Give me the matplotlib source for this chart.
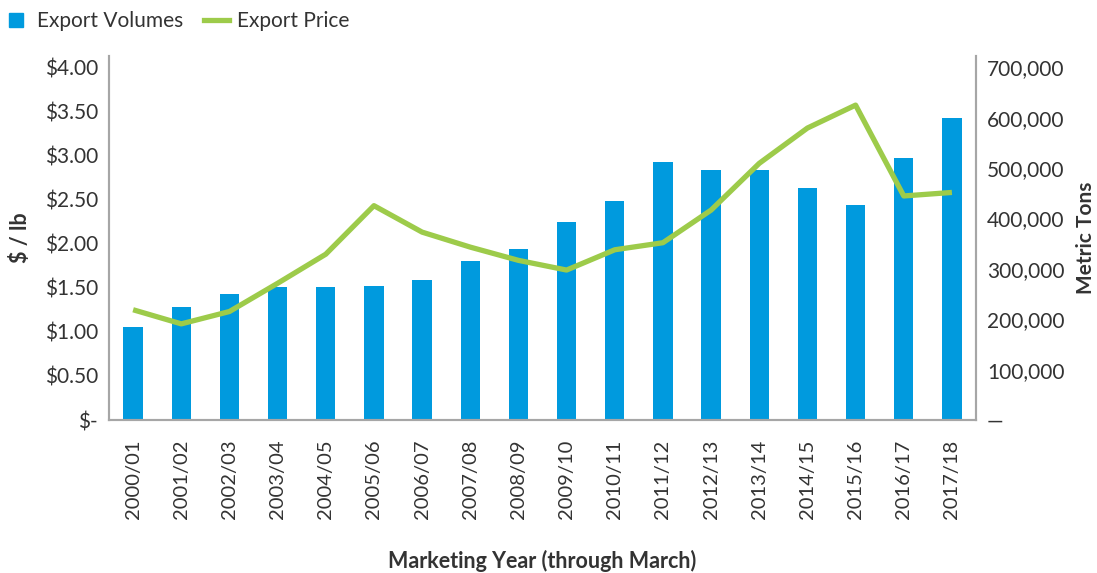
import matplotlib.pyplot as plt
from matplotlib.lines import Line2D
from matplotlib.ticker import FuncFormatter
import numpy as np

plt.rcParams["font.family"] = ["Lato", "DejaVu Sans"]

years = [
    "2000/01", "2001/02", "2002/03", "2003/04", "2004/05", "2005/06",
    "2006/07", "2007/08", "2008/09", "2009/10", "2010/11", "2011/12",
    "2012/13", "2013/14", "2014/15", "2015/16", "2016/17", "2017/18",
]
export_volumes = [
    184000, 224000, 251000, 263000, 263000, 266000,
    278000, 315000, 339000, 392000, 435000, 511000,
    496000, 496000, 460000, 426000, 520000, 599000,
]
export_price = [
    1.25, 1.09, 1.23, 1.55, 1.88, 2.43,
    2.13, 1.96, 1.81, 1.70, 1.93, 2.01,
    2.38, 2.91, 3.31, 3.57, 2.54, 2.58,
]

BAR_COLOR = "#009ADE"
LINE_COLOR = "#9DCB4A"
TEXT_COLOR = "#333333"
SPINE_COLOR = "#A6A6A6"

fig = plt.figure(figsize=(10.97, 5.73), dpi=100)
ax = fig.add_axes([0.0994, 0.267, 0.7903, 0.635])
ax2 = ax.twinx()

x = np.arange(len(years))

# bars on the right axis (metric tons), line on the left axis ($/lb)
ax2.bar(x, export_volumes, width=0.4, color=BAR_COLOR, zorder=1)
ax.plot(x, export_price, color=LINE_COLOR, linewidth=3.8,
        solid_capstyle="butt", zorder=3)

# line drawn above bars
ax.set_zorder(ax2.get_zorder() + 1)
ax.patch.set_visible(False)

ax.set_xlim(-0.5, len(years) - 0.5)
ax.set_ylim(0, 4.125)
ax2.set_ylim(0, 722000)

ax.set_yticks(np.arange(0, 4.01, 0.5))
ax.yaxis.set_major_formatter(FuncFormatter(lambda v, _: "$-" if v == 0 else f"${v:.2f}"))
ax2.set_yticks(np.arange(0, 700001, 100000))
ax2.yaxis.set_major_formatter(FuncFormatter(lambda v, _: "\u2014" if v == 0 else f"{int(v):,}"))

ax.set_xticks(x)
ax.set_xticklabels(years, rotation=90)

for a in (ax, ax2):
    a.tick_params(length=0, labelsize=15, labelcolor=TEXT_COLOR)
    a.spines["top"].set_visible(False)
    for side in ("left", "right", "bottom"):
        a.spines[side].set_color(SPINE_COLOR)
        a.spines[side].set_linewidth(1.5)
ax.tick_params(axis="x", pad=14, labelsize=14.5)
ax.tick_params(axis="y", pad=8)
ax2.tick_params(axis="y", pad=8)

ax.set_ylabel("$ / lb", fontsize=15.5, fontweight="bold", color=TEXT_COLOR, labelpad=10)
ax2.set_ylabel("Metric Tons", fontsize=15, fontweight="bold", color=TEXT_COLOR, labelpad=8)
ax.set_xlabel("Marketing Year (through March)", fontsize=15.5, fontweight="bold",
              color=TEXT_COLOR, labelpad=22)

handles = [
    Line2D([], [], linestyle="none", marker="s", markersize=10,
           markerfacecolor=BAR_COLOR, markeredgecolor=BAR_COLOR),
    Line2D([], [], color=LINE_COLOR, linewidth=3.8),
]
fig.legend(handles, ["Export Volumes", "Export Price"], loc="upper left",
           bbox_to_anchor=(-0.014, 1.013), ncol=2, frameon=False, fontsize=15,
           handlelength=1.2, columnspacing=1.0, handletextpad=0.4,
           labelcolor=TEXT_COLOR)

plt.savefig("out.png", dpi=100)
plt.close()
